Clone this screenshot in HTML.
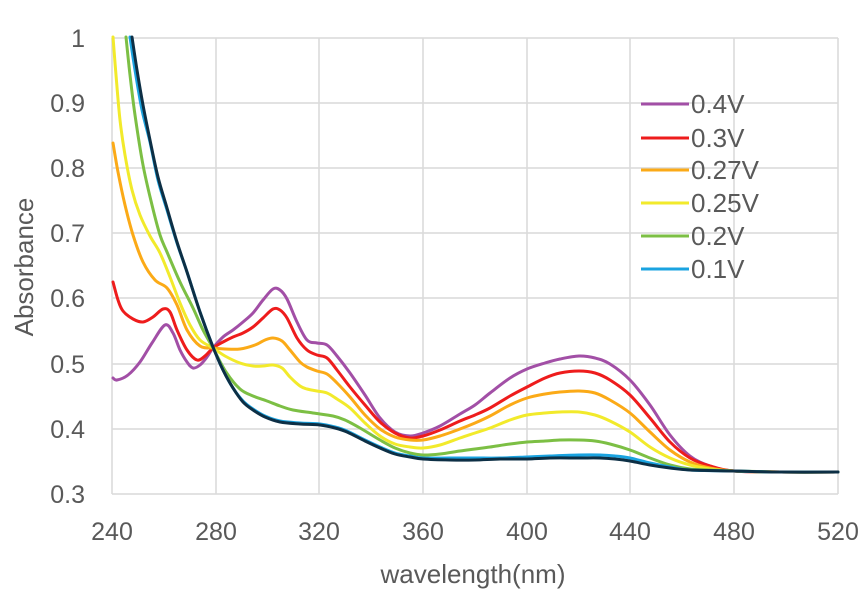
<!DOCTYPE html><html><head><style>body{margin:0;background:#fff}svg{display:block}text{font-family:"Liberation Sans",sans-serif;fill:#595959}</style></head><body>
<svg id="s" width="867" height="595" viewBox="0 0 867 595">
<g stroke="#d9d9d9" stroke-width="1.5">
<line x1="112" y1="38" x2="838" y2="38"/><line x1="112" y1="103" x2="838" y2="103"/><line x1="112" y1="168" x2="838" y2="168"/><line x1="112" y1="233" x2="838" y2="233"/><line x1="112" y1="298" x2="838" y2="298"/><line x1="112" y1="364" x2="838" y2="364"/><line x1="112" y1="429" x2="838" y2="429"/><line x1="112" y1="494" x2="838" y2="494"/>
<line x1="112" y1="38" x2="112" y2="494"/><line x1="216" y1="38" x2="216" y2="494"/><line x1="319" y1="38" x2="319" y2="494"/><line x1="423" y1="38" x2="423" y2="494"/><line x1="527" y1="38" x2="527" y2="494"/><line x1="630" y1="38" x2="630" y2="494"/><line x1="734" y1="38" x2="734" y2="494"/><line x1="838" y1="38" x2="838" y2="494"/>
</g>
<g font-size="25" text-anchor="end">
<text x="85" y="47">1</text><text x="85" y="112">0.9</text><text x="85" y="177">0.8</text><text x="85" y="242">0.7</text><text x="85" y="307">0.6</text><text x="85" y="373">0.5</text><text x="85" y="438">0.4</text><text x="85" y="503">0.3</text>
</g>
<g font-size="25" text-anchor="middle">
<text x="112" y="540">240</text><text x="216" y="540">280</text><text x="319" y="540">320</text><text x="423" y="540">360</text><text x="527" y="540">400</text><text x="630" y="540">440</text><text x="734" y="540">480</text><text x="838" y="540">520</text>
</g>
<g font-size="26" text-anchor="middle">
<text x="473" y="583">wavelength(nm)</text>
<text transform="translate(33,267) rotate(-90)">Absorbance</text>
</g>
<g id="c" fill="none" stroke-width="3" stroke-linejoin="round" stroke-linecap="round"></g>
<g stroke-width="3">
<line x1="641" y1="104" x2="689" y2="104" stroke="#a24fa6"/>
<line x1="641" y1="138" x2="689" y2="138" stroke="#ee1c1c"/>
<line x1="641" y1="170" x2="689" y2="170" stroke="#fbaa17"/>
<line x1="641" y1="203" x2="689" y2="203" stroke="#f2ea2b"/>
<line x1="641" y1="236" x2="689" y2="236" stroke="#7cbf44"/>
<line x1="641" y1="269" x2="689" y2="269" stroke="#1aa3e0"/>
</g>
<g font-size="26">
<text x="691" y="113">0.4V</text><text x="691" y="147">0.3V</text><text x="691" y="179">0.27V</text><text x="691" y="212">0.25V</text><text x="691" y="245">0.2V</text><text x="691" y="278">0.1V</text>
</g>
</svg>
<script>
var S=[
["#a24fa6","113,378 117,380 128,375 140,362 152,343 165,325 173,333 180,350 187,362 193,368 200,365 207,357 213,348 223,337 233,330 243,322 253,313 263,300 273,289 280,290 287,299 297,322 307,340 317,343 327,345 337,356 350,373 365,395 380,418 395,432 410,436 423,433 440,426 460,414 475,405 490,393 510,378 527,369 545,363 560,359 579,356 595,358 610,364 630,380 650,405 670,435 690,456 710,466 734,471 780,472 838,472"],
["#ee1c1c","113,282 118,300 123,311 133,319 143,322 153,317 163,309 170,312 177,330 187,350 197,360 205,356 213,348 223,342 233,337 243,333 253,327 263,318 273,309 280,310 287,318 297,338 307,350 317,355 327,358 337,370 350,387 365,405 380,422 395,433 410,438 423,436 440,430 460,421 475,415 490,408 510,396 527,387 545,378 560,373 579,371 595,373 610,380 630,395 650,418 670,442 690,458 710,466 734,471 780,472 838,472"],
["#fbaa17","113,143 118,172 125,205 133,235 143,262 155,280 167,288 177,305 187,330 200,346 213,348 225,349 240,349 255,345 265,340 273,338 282,341 290,350 300,362 307,367 317,371 327,374 337,383 350,397 365,415 380,429 395,437 410,440 423,440 440,436 460,429 475,423 490,416 510,405 527,398 545,394 560,392 579,391 595,393 610,400 630,413 650,432 670,450 690,462 710,468 734,471 780,472 838,472"],
["#f2ea2b","113,37 116,75 120,120 125,155 132,190 140,215 150,236 160,253 170,277 180,303 190,325 200,340 213,348 225,356 240,363 253,366 263,366 273,365 282,368 290,377 300,386 307,389 317,391 327,393 337,399 350,408 365,423 380,436 395,444 410,447 423,448 440,445 460,438 475,433 490,428 510,420 527,415 545,413 560,412 579,412 595,415 610,421 630,432 650,447 670,458 690,465 710,469 734,471 780,472 838,472"],
["#7cbf44","126,37 130,75 135,115 143,165 152,205 160,235 167,252 180,282 193,308 203,330 213,348 226,372 240,389 253,396 267,401 280,406 293,410 313,413 333,416 345,420 360,428 380,440 395,448 410,453 423,455 440,454 460,451 475,449 490,447 510,444 527,442 545,441 560,440 579,440 595,441 610,444 630,450 650,458 670,465 690,469 710,470 734,471 780,472 838,472"],
["#1aa3e0","130,37 135,70 142,110 150,142 158,180 167,210 177,243 187,272 200,312 213,347 223,370 233,388 243,401 253,409 265,416 280,421 300,423 320,424 335,427 347,431 365,440 380,447 395,453 410,456 423,458 450,458 475,458 500,458 527,457 550,456 579,455 600,455 615,456 630,458 650,463 670,467 690,470 734,471 780,472 838,472"],
["#0d2f45","132,37 137,70 143,105 150,140 158,177 167,208 177,242 187,272 200,312 213,347 223,370 233,388 243,402 253,410 265,417 280,422 300,424 320,425 335,428 347,432 365,441 380,448 395,454 410,457 423,459 450,460 475,460 500,459 527,459 550,458 579,458 600,458 615,459 630,461 650,465 670,468 690,470 734,471 780,472 838,472"]];
var g=document.getElementById("c"),ns="http://www.w3.org/2000/svg";
S.forEach(function(s){var p=s[1].split(" ").map(function(t){return t.split(",").map(Number)});
var d="M"+p[0];for(var i=0;i<p.length-1;i++){var a=p[i>0?i-1:0],b=p[i],c=p[i+1],e=p[i+2<p.length?i+2:i+1];
d+=" C"+(b[0]+(c[0]-a[0])/6)+","+(b[1]+(c[1]-a[1])/6)+" "+(c[0]-(e[0]-b[0])/6)+","+(c[1]-(e[1]-b[1])/6)+" "+c[0]+","+c[1];}
var el=document.createElementNS(ns,"path");el.setAttribute("d",d);el.setAttribute("stroke",s[0]);g.appendChild(el);});
</script>
</body></html>
